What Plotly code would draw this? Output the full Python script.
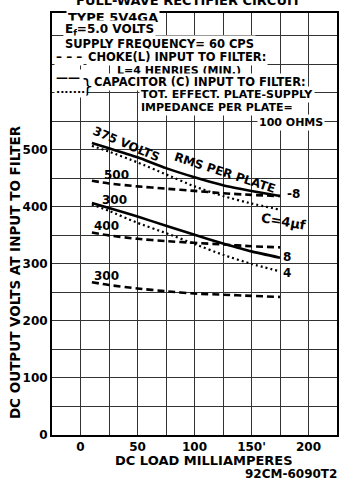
import plotly.graph_objects as go

# ---- data ----
load_ma = [10, 25, 50, 75, 100, 125, 150, 175]
v375_cap8 = [512, 503, 487, 468, 452, 438, 428, 419]
v375_cap4 = [507, 497, 478, 457, 436, 419, 406, 395]
v500_choke = [446, 441, 436, 432, 428, 424, 421, 419]
v300_cap8 = [407, 398, 383, 367, 351, 336, 322, 311]
v300_cap4 = [404, 393, 372, 354, 335, 316, 300, 287]
v400_choke = [355, 350, 344, 340, 337, 334, 331, 329]
v300_choke = [268, 263, 257, 252, 248, 246, 244, 242]

x_tick_vals = [-25, 0, 25, 50, 75, 100, 125, 150, 175, 200, 225]
x_tick_text = ["", "<b>0</b>", "", "<b>50</b>", "", "<b>100</b>", "", "<b>150'</b>", "", "<b>200</b>", ""]
y_tick_vals = [0, 50, 100, 150, 200, 250, 300, 350, 400, 450, 500, 550, 600, 650, 700, 750]
y_tick_text = ["<b>0</b>", "", "<b>100</b>", "", "<b>200</b>", "", "<b>300</b>", "",
               "<b>400</b>", "", "<b>500</b>", "", "", "", "", ""]

X_RANGE = [-25, 225]
Y_RANGE = [0, 740]

FONT = "DejaVu Sans"
INK = "black"


def f(size):
    return dict(family=FONT, size=size, color=INK)


SOLID = dict(color=INK, width=2.6)
DASHED = dict(color=INK, width=2.6, dash="7px,4px")
DOTTED = dict(color=INK, width=2.2, dash="2px,3px")

fig = go.Figure()
series = [
    ("375 V, C=8", v375_cap8, SOLID),
    ("375 V, C=4", v375_cap4, DOTTED),
    ("500 V, choke", v500_choke, DASHED),
    ("300 V, C=8", v300_cap8, SOLID),
    ("300 V, C=4", v300_cap4, DOTTED),
    ("400 V, choke", v400_choke, DASHED),
    ("300 V, choke", v300_choke, DASHED),
]
for name, ys, line in series:
    fig.add_trace(go.Scatter(x=load_ma, y=ys, mode="lines", name=name,
                             line=dict(shape="spline", smoothing=0.6, **line),
                             showlegend=False, hoverinfo="skip"))

annotations = []


def label(text, x, y, size=12, angle=0, xanchor="center", bg=None, bold=True):
    a = dict(text=("<b>%s</b>" % text) if bold else text, x=x, y=y, xref="x", yref="y",
             showarrow=False, font=f(size), textangle=angle,
             xanchor=xanchor, yanchor="middle")
    if bg:
        a.update(bgcolor=bg, borderpad=1)
    annotations.append(a)


# curve labels
label("375 VOLTS", 40, 511, 12, 23)
label("RMS PER PLATE", 127, 459, 12, 18)
label("500", 32, 456, 12)
label("300", 30, 412, 12)
label("400", 23, 366, 12)
label("300", 23, 278, 12)
label("-8", 187, 422, 12)
label("C=4\u00b5f", 178, 374, 13, 10)
label("8", 181, 312, 12)
label("4", 181, 284, 12)

# header / legend block (legend keys drawn as text glyphs)
label("TYPE 5V4GA", -13.1, 731.5, 13, xanchor="left", bg="white")
label("E<sub>f</sub>=5.0 VOLTS", -15.7, 710.5, 12, xanchor="left", bg="white")
label("SUPPLY FREQUENCY= 60 CPS", -15.7, 686, 11.5, xanchor="left", bg="white")
label("\u2013 \u2013 \u2013", -23, 663, 12, xanchor="left", bg="white")
label("CHOKE(L) INPUT TO FILTER:", 4.4, 663, 11.5, xanchor="left", bg="white")
label("L=4 HENRIES (MIN.)", 30, 640, 11, xanchor="left", bg="white")
label("\u2014\u2014", -23, 626, 12, xanchor="left", bg="white")
label("}", 6.5, 612, 20, bold=False)
label("CAPACITOR (C) INPUT TO FILTER:", 10.5, 619, 11.5, xanchor="left", bg="white")
label(".......", -23, 606, 11, xanchor="left", bg="white")
label("TOT. EFFECT. PLATE-SUPPLY", 51.5, 596.5, 11, xanchor="left", bg="white")
label("IMPEDANCE PER PLATE=", 51.5, 574, 11, xanchor="left", bg="white")
label("100 OHMS", 154.6, 547.4, 11, xanchor="left", bg="white")

# title (cut off at the top of the page), axis titles, figure code
annotations.append(dict(text="<b>FULL-WAVE RECTIFIER CIRCUIT</b>", xref="paper", yref="paper",
                        x=0.48, y=1, yshift=13, yanchor="middle", showarrow=False,
                        font=f(13)))
annotations.append(dict(text="<b>DC OUTPUT VOLTS AT INPUT TO FILTER</b>", xref="paper",
                        yref="paper", x=0, xshift=-37, y=0.386, textangle=-90,
                        showarrow=False, xanchor="center", yanchor="middle", font=f(13.5)))
annotations.append(dict(text="<b>DC LOAD MILLIAMPERES</b>", xref="paper", yref="paper",
                        x=0.533, y=0, yshift=-25, showarrow=False,
                        xanchor="center", yanchor="middle", font=f(13)))
annotations.append(dict(text="<b>92CM-6090T2</b>", xref="paper", yref="paper",
                        x=0.84, y=0, yshift=-39, showarrow=False,
                        xanchor="center", yanchor="middle", font=f(12)))

fig.update_layout(width=350, height=483, margin=dict(l=52, r=11, t=13, b=48),
                  paper_bgcolor="white", plot_bgcolor="white",
                  annotations=annotations)
fig.update_xaxes(range=X_RANGE, tickmode="array", tickvals=x_tick_vals, ticktext=x_tick_text,
                 showgrid=True, gridcolor="#333333", gridwidth=1,
                 showline=True, linewidth=2, linecolor="black", mirror=True,
                 zeroline=False, tickfont=f(12))
fig.update_yaxes(range=Y_RANGE, tickmode="array", tickvals=y_tick_vals, ticktext=y_tick_text,
                 showgrid=True, gridcolor="#333333", gridwidth=1,
                 showline=True, linewidth=2, linecolor="black", mirror=True,
                 zeroline=False, tickfont=f(12))

fig.write_html("out.html", post_script="document.body.style.margin='0';",
               config={"displayModeBar": False})
